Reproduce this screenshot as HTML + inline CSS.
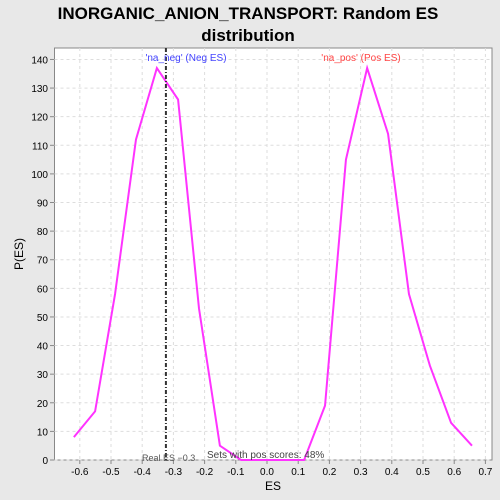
<!DOCTYPE html>
<html><head><meta charset="utf-8"><style>
html,body{margin:0;padding:0;overflow:hidden;background:#e8e8e8;font-family:"Liberation Sans",sans-serif}
svg{display:block}
</style></head><body>
<svg width="500" height="500" xmlns="http://www.w3.org/2000/svg" font-family="Liberation Sans, sans-serif">
<rect width="500" height="500" fill="#e8e8e8"/>
<text x="248" y="19" text-anchor="middle" font-size="17" font-weight="bold">INORGANIC_ANION_TRANSPORT: Random ES</text>
<text x="248" y="41" text-anchor="middle" font-size="17" font-weight="bold">distribution</text>
<rect x="54.5" y="48" width="437.5" height="412" fill="#fff" stroke="#888"/>
<g id="grid"></g><g id="axes"></g><g id="series"></g>
<text x="273" y="490" text-anchor="middle" font-size="12">ES</text>
<text x="23" y="254" text-anchor="middle" font-size="12" transform="rotate(-90 23 254)">P(ES)</text>
<text x="186" y="61" text-anchor="middle" font-size="10" fill="#4444ff">'na_neg' (Neg ES)</text>
<text x="361" y="61" text-anchor="middle" font-size="10" fill="#ff4444">'na_pos' (Pos ES)</text>
<text x="142" y="461" font-size="9" fill="#555">Real ES −0.3</text>
<text x="207" y="458" font-size="10" fill="#444">Sets with pos scores: 48%</text>
</svg>
<script>
const esValues=[-0.619,-0.551,-0.487,-0.42,-0.353,-0.285,-0.218,-0.151,-0.083,-0.016,0.051,0.119,0.186,0.253,0.321,0.388,0.455,0.522,0.59,0.657];
const pValues=[8,17,58,112,137,126,53,5,0,0,0,0,19,105,137,114,58,33,13,5];
const xTicks=[-0.6,-0.5,-0.4,-0.3,-0.2,-0.1,0.0,0.1,0.2,0.3,0.4,0.5,0.6,0.7];
const yTicks=[0,10,20,30,40,50,60,70,80,90,100,110,120,130,140];
const realES=-0.324;
const NS="http://www.w3.org/2000/svg";
const X=v=>267+v*312, Y=v=>460-v*2.861;
function mk(t,a,p){const e=document.createElementNS(NS,t);for(const k in a)e.setAttribute(k,a[k]);p.appendChild(e);return e;}
const g=document.getElementById('grid'),ax=document.getElementById('axes'),s=document.getElementById('series');
xTicks.forEach(v=>{
 const l=mk('line',{x1:X(v),x2:X(v),y1:48,y2:460,stroke:'#ddd','stroke-dasharray':'3,3'},g);
 
 const t=mk('line',{x1:X(v),x2:X(v),y1:460,y2:464,stroke:'#888'},ax);
 
 const tx=mk('text',{x:X(v),y:475,'text-anchor':'middle','font-size':'10'},ax);tx.textContent=v.toFixed(1);
 
});
yTicks.forEach(v=>{
 const l=mk('line',{x1:54.5,x2:492,y1:Y(v),y2:Y(v),stroke:'#ddd','stroke-dasharray':'3,3'},g);
 
 const t=mk('line',{x1:50,x2:54.5,y1:Y(v),y2:Y(v),stroke:'#888'},ax);
 
 const tx=mk('text',{x:48,y:Y(v)+4,'text-anchor':'end','font-size':'10'},ax);tx.textContent=v;
 
});
const pl=mk('polyline',{points:esValues.map((v,i)=>X(v)+','+Y(pValues[i])).join(' '),fill:'none',stroke:'#ff33ff','stroke-width':2},s);

const rl=mk('line',{x1:X(realES),x2:X(realES),y1:48,y2:460,stroke:'#333','stroke-width':2,'stroke-dasharray':'4,2,1,2'},s);

</script>
</body></html>
